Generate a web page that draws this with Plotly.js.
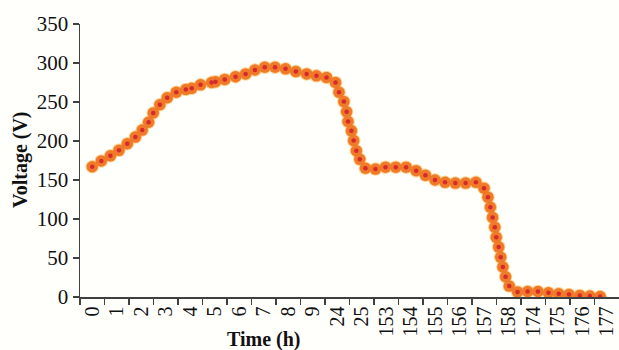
<!DOCTYPE html>
<html>
<head>
<meta charset="utf-8">
<script src="https://cdn.plot.ly/plotly-3.0.1.min.js"></script>
<style>
html,body{margin:0;padding:0;background:#fffffc;}
#chart{width:619px;height:350px;}
</style>
</head>
<body>
<div id="chart"></div>
<script>
// Category labels of the time axis (h)
var timeLabels = ['0','1','2','3','4','5','6','7','8','9','24','25','153','154','155','156','157','158','174','175','176','177'];

// Sample positions along the category axis (in category-index units)
var samplePos = [0, 0.37, 0.74, 1.09, 1.43, 1.76, 2.04, 2.30, 2.49, 2.76,
  3.06, 3.43, 3.82, 4.06, 4.42, 4.87, 5.03, 5.41, 5.85, 6.26,
  6.64, 7.04, 7.46, 7.89, 8.31, 8.75, 9.15, 9.56, 9.93, 10.07,
  10.27, 10.38, 10.44, 10.58, 10.67, 10.78, 10.92, 11.15, 11.56, 11.97,
  12.39, 12.81, 13.22, 13.60, 13.99, 14.40, 14.82, 15.24, 15.66, 15.99,
  16.15, 16.25, 16.34, 16.43, 16.49, 16.59, 16.67, 16.76, 16.87, 17.02,
  17.36, 17.77, 18.19, 18.62, 19.04, 19.46, 19.90, 20.31, 20.73];

// Voltage (V)
var voltage = [167, 174.5, 181, 188, 196.5, 205, 214, 224, 236, 246.5,
  255.5, 262.5, 266, 267.5, 272, 275, 276, 279, 282.5, 286,
  291, 294.5, 294.5, 292.5, 289, 286, 283.5, 281.5, 275, 262.5,
  250.5, 237.5, 225, 213, 200.5, 187.5, 176.5, 165, 164, 166.5,
  166.5, 166.5, 162, 156, 150, 147, 146, 146, 147, 139.5,
  128, 115, 102, 89.5, 76.5, 64, 51, 38.5, 26, 14,
  6.5, 7, 7, 5.5, 4.2, 3.2, 2, 1.2, 0.6];

var tickPos = timeLabels.map(function(_, i){ return i; });
var boundaries = timeLabels.map(function(_, i){ return i - 0.5; });

var traces = [
  {x: samplePos, y: voltage, mode: 'markers', type: 'scatter', hoverinfo: 'skip',
   marker: {size: 13.5, color: 'rgba(250,200,115,0.75)'}},
  {x: samplePos, y: voltage, mode: 'markers', type: 'scatter', hoverinfo: 'skip',
   marker: {size: 11.5, color: '#f07a2a'}},
  {x: samplePos, y: voltage, mode: 'markers', type: 'scatter',
   marker: {size: 4.5, color: '#d52a2a'}}
];

var axisColor = '#404040';
var layout = {
  width: 619, height: 350,
  margin: {l: 80, r: 0, t: 24, b: 53},
  paper_bgcolor: '#fffffc', plot_bgcolor: '#fffffc',
  showlegend: false,
  font: {family: '"Liberation Serif", "Times New Roman", serif', color: '#111', size: 21},
  xaxis: {
    range: [-0.5, 21.5],
    tickmode: 'array', tickvals: tickPos, ticktext: timeLabels,
    tickangle: -90, ticks: '', showgrid: false, zeroline: false,
    showline: true, linecolor: axisColor, linewidth: 1.5,
    tickfont: {size: 20},
    minor: {tickmode: 'array', tickvals: boundaries, ticks: 'outside', ticklen: 6, tickwidth: 1.5, tickcolor: axisColor, showgrid: false},
    fixedrange: true
  },
  yaxis: {
    range: [0, 350], tickmode: 'linear', tick0: 0, dtick: 50,
    ticks: 'outside', ticklen: 6, tickwidth: 1.5, tickcolor: axisColor,
    showline: true, linecolor: axisColor, linewidth: 1.5,
    showgrid: false, zeroline: false, tickfont: {size: 21},
    fixedrange: true
  },
  annotations: [
    {text: '<b>Time (h)</b>', xref: 'paper', yref: 'paper', x: 0.341, y: -0.157,
     xanchor: 'center', yanchor: 'middle', showarrow: false, font: {size: 20}},
    {text: '<b>Voltage (V)</b>', xref: 'paper', yref: 'paper', x: -0.1095, y: 0.502,
     xanchor: 'center', yanchor: 'middle', textangle: -90, showarrow: false, font: {size: 20}}
  ]
};

Plotly.newPlot('chart', traces, layout, {displayModeBar: false, staticPlot: true});
</script>
</body>
</html>
